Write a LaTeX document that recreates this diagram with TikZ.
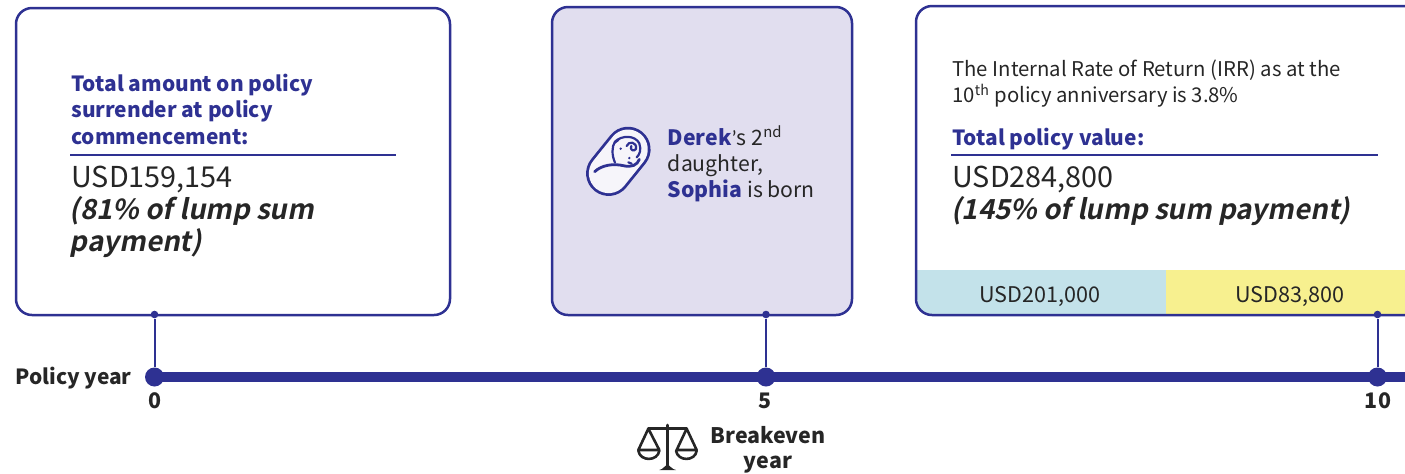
\documentclass[tikz,border=0pt]{standalone}
\usepackage{fontspec}
\setmainfont{Noto Sans CJK SC}
\newfontfamily\slantfont[FakeSlant=0.2,BoldFont={Noto Sans CJK SC Bold}]{Noto Sans CJK SC}
\newfontfamily\quotefont{Carlito}
\usetikzlibrary{calc}
\definecolor{policyblue}{RGB}{46,49,146}
\definecolor{bornlilac}{RGB}{225,222,239}
\definecolor{paidblue}{RGB}{195,226,234}
\definecolor{bonusyellow}{RGB}{247,240,143}
\definecolor{inktext}{RGB}{38,38,38}
\tikzstyle{infobox}=[draw=policyblue,line width=1.25pt,rounded corners=8pt,inner sep=0pt]
\tikzstyle{tickdot}=[circle,fill=policyblue,inner sep=0pt,minimum size=3.8pt]
\tikzstyle{yeardot}=[circle,fill=policyblue,inner sep=0pt,minimum size=9.5pt]
\tikzstyle{stem}=[draw=policyblue,line width=1pt]
\tikzstyle{rule}=[draw=policyblue,line width=1pt]
\tikzstyle{icon}=[draw=policyblue,line width=1.1pt,line cap=round,line join=round]
\tikzstyle{scales}=[draw=inktext,line width=1.3pt,line cap=round,line join=round]
\tikzstyle{head}=[anchor=north west,align=left,inner sep=0pt,text=policyblue,font=\fontsize{10.45}{13.2}\selectfont\bfseries]
\tikzstyle{body}=[anchor=north west,align=left,inner sep=0pt,text=inktext,font=\fontsize{10.6}{13.2}\selectfont]
\tikzstyle{note}=[anchor=north west,align=left,inner sep=0pt,text=inktext,font=\fontsize{10.15}{13.4}\selectfont]
\tikzstyle{amount}=[anchor=north west,align=left,inner sep=0pt,text=inktext,font=\fontsize{14.4}{16}\selectfont]
\tikzstyle{share}=[anchor=north west,align=left,inner sep=0pt,text=inktext,font=\fontsize{13.8}{16}\slantfont\bfseries]
\tikzstyle{year}=[inner sep=0pt,text=inktext,font=\fontsize{10.7}{12.5}\selectfont\bfseries]
\tikzstyle{strip}=[inner sep=0pt,text=inktext,font=\fontsize{10.8}{12}\selectfont]
\begin{document}
\begin{tikzpicture}[x=0.5pt,y=-0.5pt]
  \useasboundingbox (0,0) rectangle (1405,473);
  \clip (0,0) rectangle (1405,473);

  % colour strips of the last box
  \fill[paidblue] (917,270) rectangle (1166,300);
  \fill[paidblue,rounded corners=8pt] (917,290) -- (917,315) -- (1000,315) -- (1000,290) -- cycle;
  \fill[paidblue] (960,290) rectangle (1166,315);
  \fill[bonusyellow] (1166,270) rectangle (1430,315);

  % boxes
  \node[infobox,minimum width=217pt,minimum height=153.5pt] (boxzero) at (233,161.5) {};
  \node[infobox,fill=bornlilac,minimum width=150pt,minimum height=154pt] (boxfive) at (702,161) {};
  \node[infobox,minimum width=258pt,minimum height=154.5pt] (boxten) at (1174,160.5) {};

  % first box
  \node[head] (surrender) at (71,73.5) {Total amount on policy\\surrender at policy\\commencement:};
  \draw[rule] (70,154.5) -- (396,154.5);
  \node[amount] (surrendersum) at (71,166) {USD159,154};
  \node[share] (surrendershare) at (69.5,196) {(81\% of lump sum\\payment)};

  % middle box
  \node[body] (birth) at (667.5,125) {\textcolor{policyblue}{\bfseries Derek}{\quotefont’}s 2\textsuperscript{nd}\\daughter,\\\textcolor{policyblue}{\bfseries Sophia} is born};
  \begin{scope}[shift={(560,100)},scale=1/3]
    \draw[policyblue,line width=22.6pt,line cap=round] (146,220) -- (204,148);
    \draw[white!70!bornlilac,line width=19.8pt,line cap=round] (146,220) -- (204,148);
    \draw[icon,line width=1.4pt] (104,215) .. controls (125,195) and (160,190) .. (190,197) .. controls (215,203) and (232,195) .. (238,178);
    \draw[icon] (165,188) .. controls (155,165) and (155,140) .. (165,125) .. controls (185,105) and (225,105) .. (238,130) .. controls (245,150) and (238,165) .. (230,172);
    \draw[icon] (164,128) -- (175,120);
    \draw[icon] (200,138) .. controls (205,122) and (232,125) .. (228,147) .. controls (222,156) and (208,150) .. (214,138);
    \fill[policyblue] (182,146) circle (4);
    \fill[policyblue] (208,174) circle (4);
    \draw[icon] (205,187) -- (215,191);
  \end{scope}

  % last box
  \node[note] (irr) at (952,59) {The Internal Rate of Return (IRR) as at the\\10\textsuperscript{th} policy anniversary is 3.8\%};
  \node[head] (policyvalue) at (952,127.5) {Total policy value:};
  \draw[rule] (951,155) -- (1378,155);
  \node[amount] (valuesum) at (952,166) {USD284,800};
  \node[share] (valueshare) at (951,196) {(145\% of lump sum payment)};
  \node[strip] (paidsum) at (1040,296.5) {USD201,000};
  \node[strip] (bonussum) at (1290,296.5) {USD83,800};

  % timeline
  \node[year,anchor=east,font=\fontsize{10.45}{12.5}\selectfont\bfseries] (policyyear) at (132,378.5) {Policy year};
  \node[yeardot] (yearzero) at (154.5,377) {};
  \node[yeardot] (yearfive) at (766,377) {};
  \node[yeardot] (yearten) at (1377.5,377) {};
  \coordinate (lineend) at (1405,377);
  \draw[policyblue,line width=5pt] (yearzero.center) -- (lineend);
  \node[tickdot] (tickzero) at (154.5,314.5) {};
  \node[tickdot] (tickfive) at (766,314.5) {};
  \node[tickdot] (tickten) at (1377.5,314.5) {};
  \draw[stem] (tickzero) -- (yearzero);
  \draw[stem] (tickfive) -- (yearfive);
  \draw[stem] (tickten) -- (yearten);
  \node[year] (labelzero) at (155,401) {0};
  \node[year] (labelfive) at (765,401) {5};
  \node[year] (labelten) at (1378,401) {10};

  % breakeven
  \node[year,align=center] (breakeven) at (768,450) {Breakeven\\year};
  \begin{scope}[shift={(620,380)},scale=1/3]
    \draw[scales] (142,135) -- (142,262);
    \draw[scales] (85,146) -- (200,146);
    \draw[scales] (85,146) -- (55,210) -- (118,210) -- cycle;
    \draw[scales] (200,146) -- (170,210) -- (230,210) -- cycle;
    \draw[scales] (55,212) .. controls (60,245) and (113,245) .. (118,212);
    \draw[scales] (168,212) .. controls (173,245) and (226,245) .. (230,212);
    \fill[inktext] (118,270) .. controls (130,268) and (135,255) .. (142,255) .. controls (150,255) and (155,268) .. (168,270) -- cycle;
  \end{scope}
\end{tikzpicture}
\end{document}
